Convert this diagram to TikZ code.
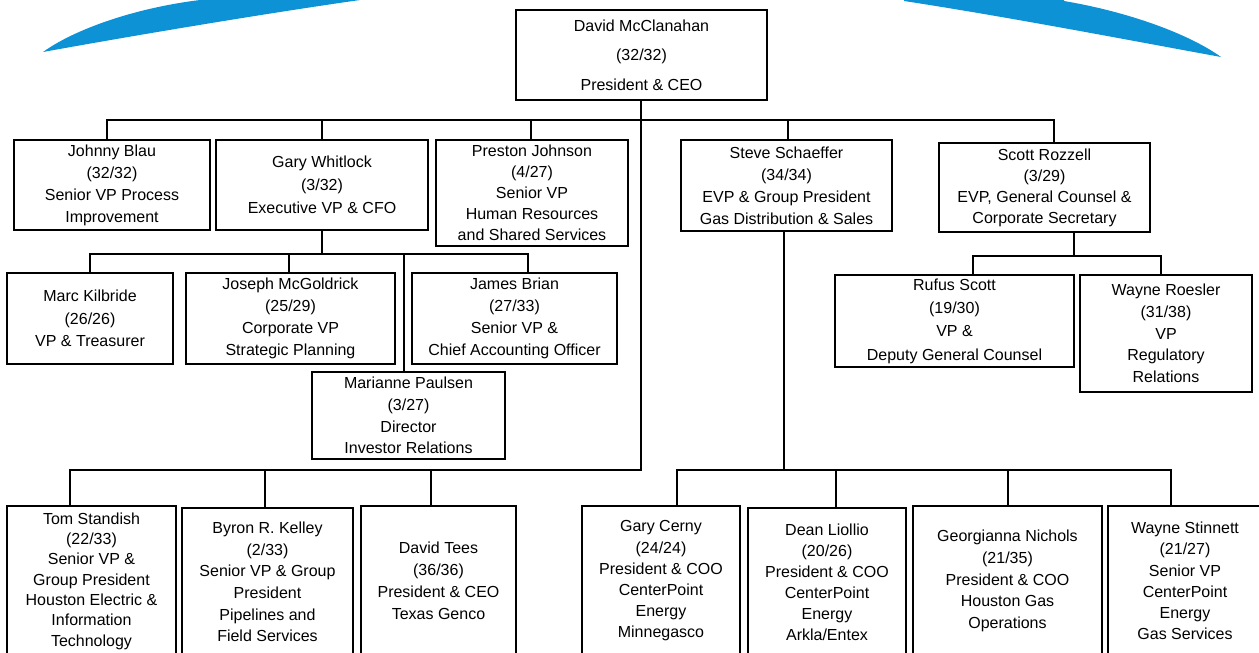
\documentclass[tikz,border=0pt]{standalone}
\usepackage{fontspec}
\setmainfont{Liberation Sans}
\definecolor{swooshblue}{RGB}{14,146,214}
\newcommand\boxfont[1]{\fontsize{16}{#1}\selectfont}
\begin{document}
\begin{tikzpicture}[x=1pt,y=-1pt,
  box/.style={draw=black,line width=1.8pt,inner sep=0pt,align=center,
              text=black,font=\boxfont{22}},
  link/.style={draw=black,line width=1.8pt,line cap=rect}]
\useasboundingbox (0,0) rectangle (1259,653);

% blue arc behind the header
\fill[swooshblue] (43,52) .. controls (75,29) and (135,8) .. (200,0)
  -- (200,-30) -- (360,-30) -- (360,0) .. controls (255,15) and (120,38) .. (43,52) -- cycle;
\fill[swooshblue] (1221,57) .. controls (1189,34) and (1129,12) .. (1064,1)
  -- (1064,-30) -- (904,-30) -- (904,1) .. controls (1009,17) and (1144,43) .. (1221,57) -- cycle;

% president
\node[box,minimum width=251pt,minimum height=90pt,font=\boxfont{29.5}] (ceo) at (641.5,55)
  {David McClanahan\\(32/32)\\President \& CEO};

% direct reports
\node[box,minimum width=196pt,minimum height=90pt] (jb) at (112,185)
  {Johnny Blau\\(32/32)\\Senior VP Process\\Improvement};
\node[box,minimum width=212pt,minimum height=90pt,font=\boxfont{23}] (gw) at (322,185)
  {Gary Whitlock\\(3/32)\\Executive VP \& CFO};
\node[box,minimum width=192pt,minimum height=106pt,font=\boxfont{21}] (pj) at (532,193)
  {Preston Johnson\\(4/27)\\Senior VP\\Human Resources\\and Shared Services};
\node[box,minimum width=211pt,minimum height=91pt] (ss) at (786.5,185.5)
  {Steve Schaeffer\\(34/34)\\EVP \& Group President\\Gas Distribution \& Sales};
\node[box,minimum width=211pt,minimum height=89pt,font=\boxfont{21}] (sr) at (1044.5,187.5)
  {Scott Rozzell\\(3/29)\\EVP, General Counsel \&\\Corporate Secretary};

% finance
\node[box,minimum width=166pt,minimum height=91pt,font=\boxfont{22.5}] (mk) at (90,318.5)
  {Marc Kilbride\\(26/26)\\VP \& Treasurer};
\node[box,minimum width=209pt,minimum height=91pt] (jm) at (290.5,318.5)
  {Joseph McGoldrick\\(25/29)\\Corporate VP\\Strategic Planning};
\node[box,minimum width=205pt,minimum height=91pt] (jbr) at (514.5,318.5)
  {James Brian\\(27/33)\\Senior VP \&\\Chief Accounting Officer};
\node[box,minimum width=193pt,minimum height=87pt,font=\boxfont{21.7}] (mp) at (408.5,415.5)
  {Marianne Paulsen\\(3/27)\\Director\\Investor Relations};

% legal
\node[box,minimum width=239pt,minimum height=92pt,font=\boxfont{23.3}] (rs) at (954.5,321)
  {Rufus Scott\\(19/30)\\VP \&\\Deputy General Counsel};
\node[box,minimum width=172pt,minimum height=117pt,font=\boxfont{21.75}] (wr) at (1166,333.5)
  {Wayne Roesler\\(31/38)\\VP\\Regulatory\\Relations};

% operating groups
\node[box,minimum width=169pt,minimum height=150pt,font=\boxfont{20.3}] (ts) at (91.5,581)
  {Tom Standish\\(22/33)\\Senior VP \&\\Group President\\Houston Electric \&\\Information\\Technology};
\node[box,minimum width=171pt,minimum height=148pt,font=\boxfont{21.6}] (bk) at (267.5,582)
  {Byron R. Kelley\\(2/33)\\Senior VP \& Group\\President\\Pipelines and\\Field Services};
\node[box,minimum width=155pt,minimum height=150pt] (dt) at (438.5,581)
  {David Tees\\(36/36)\\President \& CEO\\Texas Genco};
\node[box,minimum width=158pt,minimum height=150pt,font=\boxfont{21.2}] (gc) at (661,581)
  {Gary Cerny\\(24/24)\\President \& COO\\CenterPoint\\Energy\\Minnegasco};
\node[box,minimum width=158pt,minimum height=148pt,font=\boxfont{21}] (dl) at (827,582)
  {Dean Liollio\\(20/26)\\President \& COO\\CenterPoint\\Energy\\Arkla/Entex};
\node[box,minimum width=189pt,minimum height=150pt,font=\boxfont{21.75}] (gn) at (1007.5,581)
  {Georgianna Nichols\\(21/35)\\President \& COO\\Houston Gas\\Operations};
\node[box,minimum width=154pt,minimum height=150pt,font=\boxfont{21.2}] (ws) at (1185,581)
  {Wayne Stinnett\\(21/27)\\Senior VP\\CenterPoint\\Energy\\Gas Services};

% bus and drop points
\coordinate (tbL) at (107,120);
\coordinate (tbR) at (1054,120);
\coordinate (dGW) at (322,120);
\coordinate (dPJ) at (531,120);
\coordinate (dSS) at (788,120);
\coordinate (gbL) at (90,254);
\coordinate (gbR) at (528,254);
\coordinate (dJM) at (289,254);
\coordinate (dMP) at (404,254);
\coordinate (sbL) at (973,256);
\coordinate (sbR) at (1161,256);
\coordinate (sdn) at (1074,256);
\coordinate (lbus) at (70,470);
\coordinate (trunk) at (641,470);
\coordinate (dBK) at (265,470);
\coordinate (dDT) at (431,470);
\coordinate (rbL) at (677,470);
\coordinate (rbR) at (1171,470);
\coordinate (sxd) at (784,470);
\coordinate (dDL) at (836,470);
\coordinate (dGN) at (1008,470);

% president to direct reports
\draw[link] (tbL |- jb.north) -- (tbL) -- (tbR) -- (tbR |- sr.north);
\draw[link] (dGW) -- (dGW |- gw.north);
\draw[link] (dPJ) -- (dPJ |- pj.north);
\draw[link] (dSS) -- (dSS |- ss.north);

% president to operating groups
\draw[link] (trunk |- ceo.south) -- (trunk) -- (lbus) -- (lbus |- ts.north);
\draw[link] (dBK) -- (dBK |- bk.north);
\draw[link] (dDT) -- (dDT |- dt.north);

% finance
\draw[link] (dGW |- gw.south) -- (dGW |- gbL);
\draw[link] (mk.north) -- (gbL) -- (gbR) -- (gbR |- jbr.north);
\draw[link] (dJM) -- (dJM |- jm.north);
\draw[link] (dMP) -- (dMP |- mp.north);

% legal
\draw[link] (sdn |- sr.south) -- (sdn);
\draw[link] (sbL |- rs.north) -- (sbL) -- (sbR) -- (sbR |- wr.north);

% gas distribution
\draw[link] (sxd |- ss.south) -- (sxd);
\draw[link] (rbL |- gc.north) -- (rbL) -- (rbR) -- (rbR |- ws.north);
\draw[link] (dDL) -- (dDL |- dl.north);
\draw[link] (dGN) -- (dGN |- gn.north);
\end{tikzpicture}
\end{document}
